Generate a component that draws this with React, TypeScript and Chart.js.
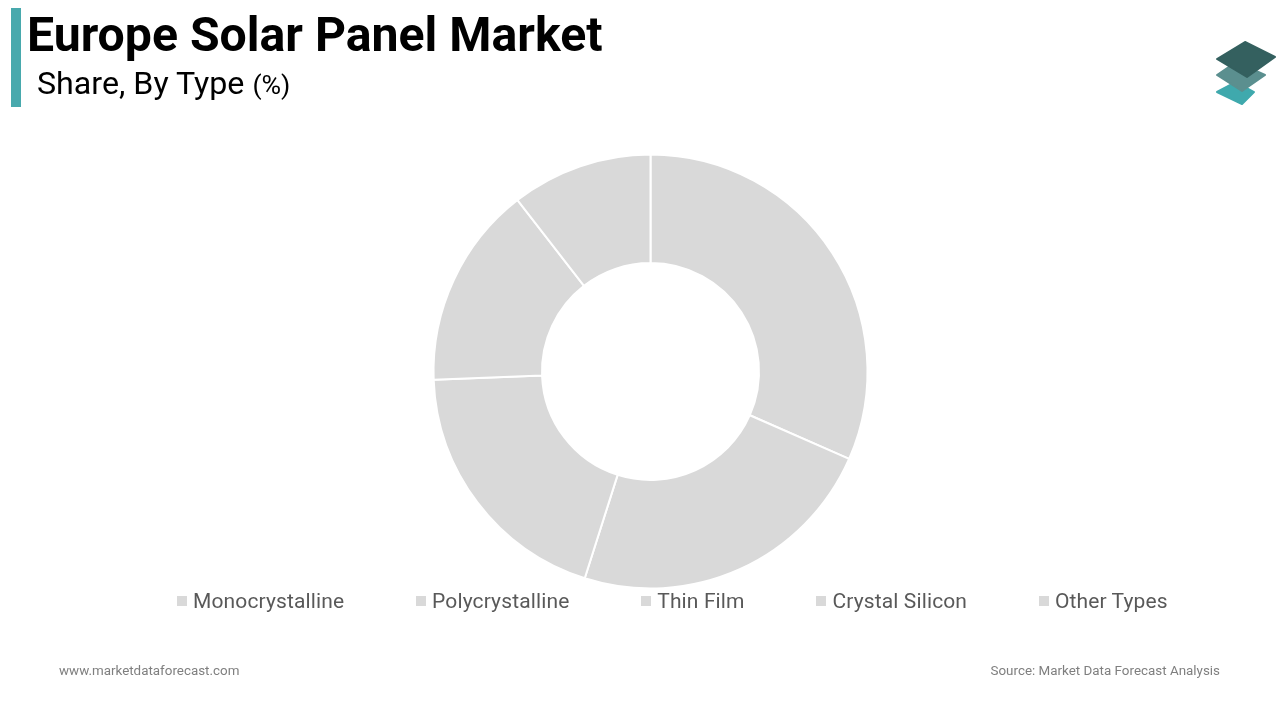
import { useEffect, useRef } from "react";
import { Chart, registerables } from "chart.js";

Chart.register(...registerables);

const categories = ["Monocrystalline", "Polycrystalline", "Thin Film", "Crystal Silicon", "Other Types"];
const shares = [31.6, 23.3, 19.5, 15.1, 10.5];
const sliceColors = ["#d9d9d9", "#d9d9d9", "#d9d9d9", "#d9d9d9", "#d9d9d9"];

const FONT = "Roboto, sans-serif";

function Logo() {
  return (
    <svg width="80" height="85" viewBox="0 0 80 85" style={{ position: "absolute", left: 1200, top: 30 }}>
      <path d="M17 62 L36 52 L54 62 L42 74 Z" fill="#3fa9ad" stroke="#3fa9ad" strokeWidth="2" strokeLinejoin="round" />
      <path d="M17 45 L36 32 L65 45 L42 61 Z" fill="#5b8f8f" stroke="#5b8f8f" strokeWidth="2" strokeLinejoin="round" />
      <path d="M17 29 L45 12 L75 27 L47 47 Z" fill="#34605f" stroke="#34605f" strokeWidth="2" strokeLinejoin="round" />
    </svg>
  );
}

export default function App() {
  const canvasRef = useRef<HTMLCanvasElement | null>(null);

  useEffect(() => {
    if (!canvasRef.current) return;

    const chart = new Chart(canvasRef.current, {
      type: "doughnut",
      data: {
        labels: categories,
        datasets: [
          {
            data: shares,
            backgroundColor: sliceColors,
            borderColor: "#ffffff",
            borderWidth: 2
          }
        ]
      },
      options: {
        responsive: false,
        animation: false,
        cutout: "50%",
        layout: {
          padding: { left: 432.5, right: 411.5, top: 153.5, bottom: 130.5 }
        },
        plugins: {
          legend: { display: false },
          tooltip: { enabled: false }
        }
      }
    });

    return () => chart.destroy();
  }, []);

  return (
    <div style={{ position: "absolute", left: 0, top: 0, width: 1280, height: 720, background: "#fff", overflow: "hidden", fontFamily: FONT }}>
      <canvas ref={canvasRef} width={1280} height={720} style={{ position: "absolute", left: 0, top: 0 }} />

      <div style={{ position: "absolute", left: 11, top: 8, width: 10, height: 99, background: "#48a9ad" }} />
      <div style={{ position: "absolute", left: 27, top: 8, fontSize: 48.2, fontWeight: 700, lineHeight: "54px", color: "#000", whiteSpace: "nowrap" }}>
        Europe Solar Panel Market
      </div>
      <div style={{ position: "absolute", left: 37, top: 64, fontSize: 32.2, lineHeight: "38px", color: "#000", whiteSpace: "nowrap" }}>
        Share, By Type <span style={{ fontSize: 26.7 }}>(%)</span>
      </div>

      <Logo />

      <div style={{ position: "absolute", left: 177, top: 587, display: "flex", gap: 71.8, whiteSpace: "nowrap" }}>
        {categories.map((name, i) => (
          <div key={name} style={{ display: "flex", alignItems: "center", height: 28 }}>
            <span style={{ display: "inline-block", width: 10, height: 10, background: sliceColors[i], marginRight: 6 }} />
            <span style={{ fontSize: 21, letterSpacing: 0.13, color: "#595959" }}>{name}</span>
          </div>
        ))}
      </div>

      <div style={{ position: "absolute", left: 59, top: 663, fontSize: 13.4, color: "#7f7f7f", whiteSpace: "nowrap" }}>
        www.marketdataforecast.com
      </div>
      <div style={{ position: "absolute", right: 60, top: 663, fontSize: 13.4, color: "#7f7f7f", whiteSpace: "nowrap" }}>
        Source: Market Data Forecast Analysis
      </div>
    </div>
  );
}
